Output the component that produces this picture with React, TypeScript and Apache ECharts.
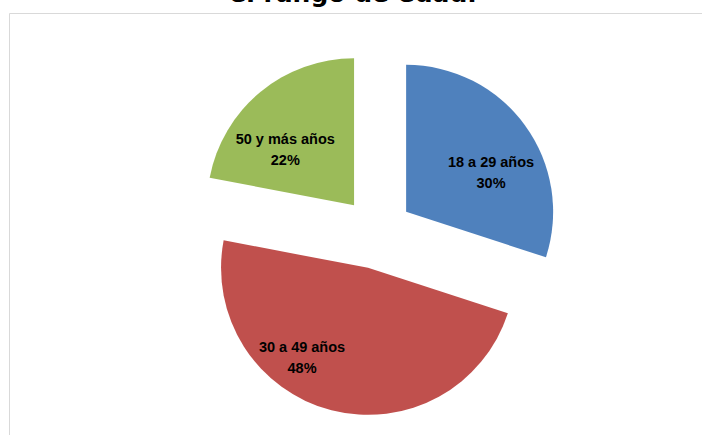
import React, { useEffect, useRef } from "react";
import * as echarts from "echarts";

const categories = ["18 a 29 años", "30 a 49 años", "50 y más años"];
const values = [30, 48, 22];
const colors = ["#4F81BD", "#C0504D", "#9BBB59"];
const labelShifts: [number, number][] = [[23, 6], [-47, 16], [-20, 3]];
const titleText = "el rango de edad.";

export default function App() {
  const ref = useRef<HTMLDivElement>(null);
  useEffect(() => {
    if (!ref.current) return;
    const chart = echarts.init(ref.current, null, { renderer: "svg" });
    chart.setOption({
      animation: false,
      backgroundColor: "#ffffff",
      graphic: [
        {
          type: "rect",
          shape: { x: 9.5, y: 13.5, width: 720, height: 440 },
          style: { fill: "none", stroke: "#d9d9d9", lineWidth: 1 },
          z: 0,
        },
        {
          type: "text",
          x: 353,
          y: 6,
          style: {
            text: titleText,
            font: "bold 25px 'DejaVu Sans'",
            fill: "#000000",
            align: "center",
            verticalAlign: "bottom",
          },
          z: 10,
        },
      ],
      series: [
        {
          type: "pie",
          center: [377, 233],
          radius: [0, 147],
          startAngle: 90,
          clockwise: true,
          selectedMode: "multiple",
          selectedOffset: 36,
          avoidLabelOverlap: false,
          emphasis: { disabled: true },
          label: {
            show: true,
            position: "inside",
            formatter: "{b}\n{d}%",
            fontFamily: "'Liberation Sans', Arial, sans-serif",
            fontWeight: "bold",
            fontSize: 14.5,
            lineHeight: 21,
            color: "#000000",
            align: "center",
          },
          labelLayout: (p: any) => ({
            dx: labelShifts[p.dataIndex][0],
            dy: labelShifts[p.dataIndex][1],
          }),
          labelLine: { show: false },
          data: categories.map((name, i) => ({
            name,
            value: values[i],
            selected: true,
            itemStyle: { color: colors[i] },
            select: { itemStyle: { color: colors[i] } },
          })),
        },
      ],
    });
    return () => chart.dispose();
  }, []);
  return (
    <div
      ref={ref}
      style={{ position: "fixed", left: 0, top: 0, width: 702, height: 435 }}
    />
  );
}
